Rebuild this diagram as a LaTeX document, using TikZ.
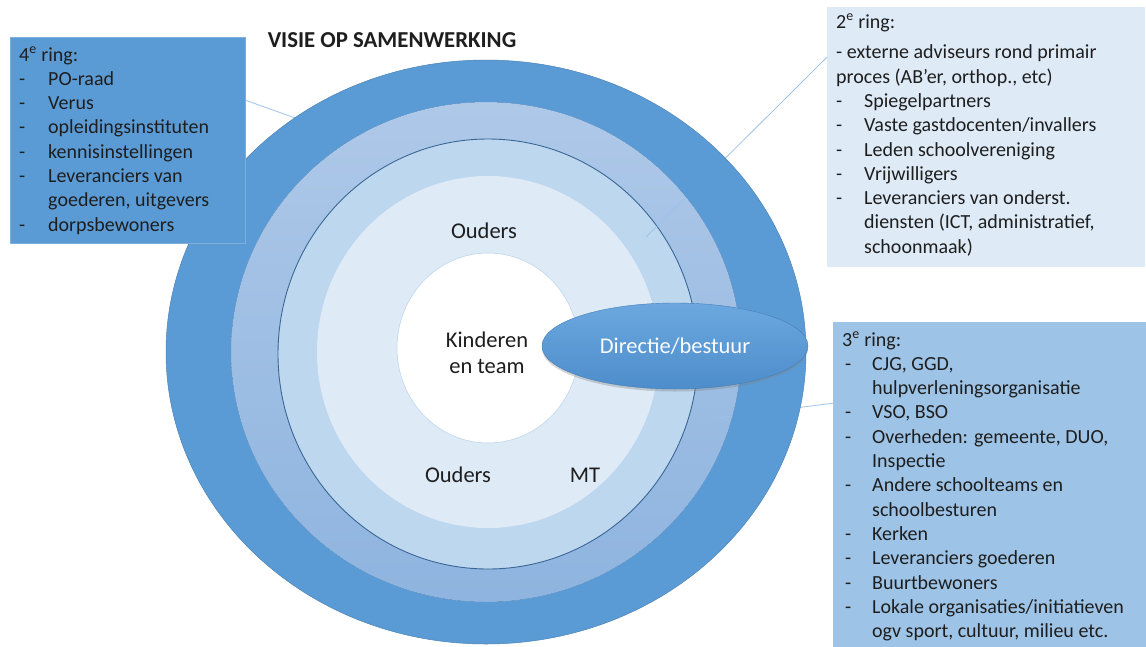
\documentclass[tikz,border=0pt]{standalone}
\usepackage{fontspec}
\setmainfont{Carlito}
\usetikzlibrary{shapes.geometric,shadows}

\definecolor{ringdark}{HTML}{5B9BD5}
\definecolor{ringmidtop}{HTML}{AEC8E8}
\definecolor{ringmidbot}{HTML}{8EB4DF}
\definecolor{ringlight}{HTML}{BDD7EE}
\definecolor{ringpale}{HTML}{DEEAF6}
\definecolor{ringline}{HTML}{3A6796}
\definecolor{boxtwo}{HTML}{DEEBF7}
\definecolor{boxthree}{HTML}{9DC3E6}
\definecolor{boxfour}{HTML}{5B9BD5}
\definecolor{linkline}{HTML}{9DC3E6}
\definecolor{txt}{HTML}{1E1E1E}
\definecolor{dirtop}{HTML}{6CA8DF}
\definecolor{dirbot}{HTML}{4D8DCB}

\begin{document}
\begin{tikzpicture}[x=1pt,y=-1pt,
  listtext/.style={anchor=base west, inner sep=0pt, text=txt,
    font=\fontsize{20}{24.3}\selectfont},
  lbl/.style={inner sep=0pt, text=txt, font=\fontsize{22.5}{26}\selectfont},
  ringbox/.style={rectangle, anchor=north west, inner sep=0pt},
  link/.style={draw=linkline, line width=0.8pt}]

\useasboundingbox (0,0) rectangle (1146,646);
\clip (0,0) rectangle (1146,646);

% concentric rings, drawn from the outside in
\fill[top color=ringmidtop, bottom color=ringmidbot]
  (486,352) ellipse [x radius=255, y radius=250];
\filldraw[fill=ringlight, draw=ringline, line width=0.9pt]
  (488,354) ellipse [x radius=210, y radius=215];
\fill[ringpale] (488,352) ellipse [x radius=171, y radius=176];
\filldraw[fill=white, draw=ringlight, line width=0.6pt]
  (488,348) ellipse [x radius=91, y radius=95];

% boxes with the ring descriptions
\node[ringbox, fill=boxtwo, minimum width=318, minimum height=260] (box2) at (827,7) {};
\node[ringbox, fill=boxthree, minimum width=330, minimum height=340] (box3) at (833,322) {};
\node[ringbox, minimum width=235, minimum height=206] (box4) at (10,37) {};

% ends of the connectors inside the rings
\coordinate (end4) at (312,124);
\coordinate (end2) at (646,237);
\coordinate (end3) at (717,418);

\draw[link] ([yshift=40pt]box4.east) -- (end4);
\draw[link] ([yshift=80pt]box2.west) -- (end2);
\draw[link] ([yshift=89pt]box3.west) -- (end3);

% outermost ring lies over the connectors
\fill[ringdark, even odd rule]
  (486,352) ellipse [x radius=320, y radius=292]
  (486,352) ellipse [x radius=255, y radius=250];
\draw[ringdark!85!black, line width=0.5pt]
  (486,352) ellipse [x radius=320, y radius=292];

% box 4 lies over the outer ring
\node[ringbox, fill=boxfour, draw=ringdark!80!white, line width=0.6pt,
  minimum width=235, minimum height=206] (box4top) at (10,37) {};

% management ellipse
\node[ellipse, minimum width=266, minimum height=86, inner sep=0pt,
  top color=dirtop, bottom color=dirbot, draw=dirbot!90!black, line width=0.4pt,
  drop shadow={opacity=0.35, shadow xshift=0pt, shadow yshift=-2.5pt},
  text=white!92!ringlight, font=\fontsize{22.5}{26}\selectfont]
  (dir) at (675,346) {Directie/bestuur};

% title
\node[inner sep=0pt, text=txt, font=\bfseries\fontsize{22.8}{26}\selectfont]
  (title) at (392,40) {VISIE OP SAMENWERKING};

% labels in the rings
\node[lbl] (ouders1) at (484,231) {Ouders};
\node[lbl, align=center] (kind) at (487,353) {Kinderen\\en team};
\node[lbl] (ouders2) at (458,475) {Ouders};
\node[lbl] (mt) at (585,475) {MT};

% ring descriptions
\node[listtext] (t4) at (19,61) {\begin{tabular}[t]{@{}p{29pt}@{}l@{}}
\multicolumn{2}{@{}l@{}}{4\textsuperscript{e} ring:}\\
- & PO-raad\\
- & Verus\\
- & opleidingsinstituten\\
- & kennisinstellingen\\
- & Leveranciers van\\
  & goederen, uitgevers\\
- & dorpsbewoners
\end{tabular}};

\node[listtext] (t2) at (836,28) {\begin{tabular}[t]{@{}p{28pt}@{}l@{}}
\multicolumn{2}{@{}l@{}}{2\textsuperscript{e} ring:}\\[6.5pt]
\multicolumn{2}{@{}l@{}}{- externe adviseurs rond primair}\\
\multicolumn{2}{@{}l@{}}{proces (AB’er, orthop., etc)}\\
- & Spiegelpartners\\
- & Vaste gastdocenten/invallers\\
- & Leden schoolvereniging\\
- & Vrijwilligers\\
- & Leveranciers van onderst.\\
  & diensten (ICT, administratief,\\
  & schoonmaak)
\end{tabular}};

\node[listtext] (t3) at (845,346) {\begin{tabular}[t]{@{}p{27pt}@{}l@{}}
\multicolumn{2}{@{}l@{}}{\hspace*{-3pt}3\textsuperscript{e} ring:}\\
- & CJG, GGD,\\
  & hulpverleningsorganisatie\\
- & VSO, BSO\\
- & Overheden: gemeente, DUO,\\
  & Inspectie\\
- & Andere schoolteams en\\
  & schoolbesturen\\
- & Kerken\\
- & Leveranciers goederen\\
- & Buurtbewoners\\
- & Lokale organisaties/initiatieven\\
  & ogv sport, cultuur, milieu etc.
\end{tabular}};

\end{tikzpicture}
\end{document}
